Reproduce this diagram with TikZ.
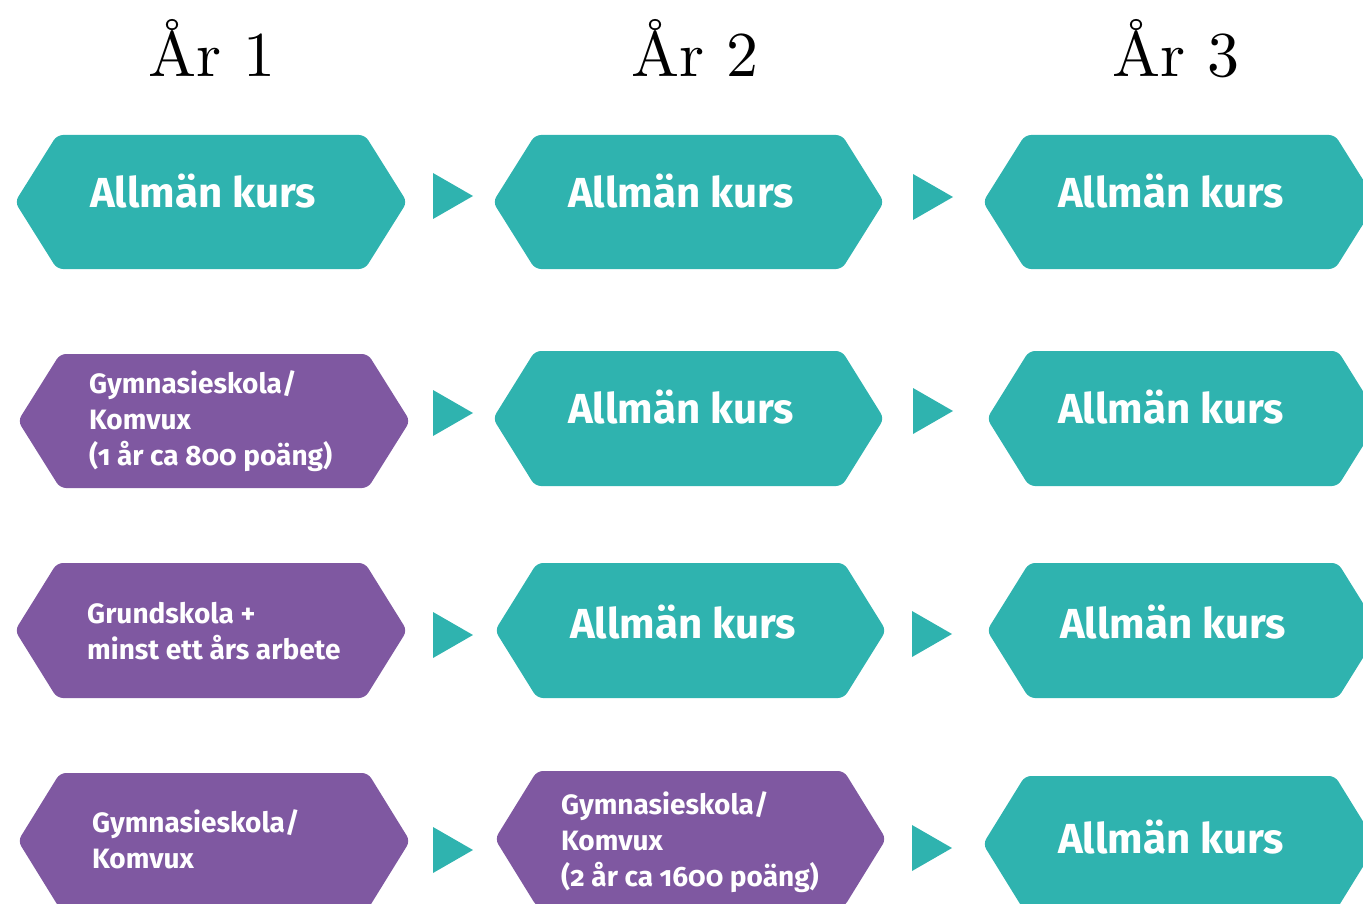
\documentclass[tikz,border=0pt]{standalone}
\usepackage{fontspec}
\setmainfont{Latin Modern Roman}
\newfontfamily\hdrfont{lmroman10-regular.otf}
\newfontfamily\boxfont[Numbers=OldStyle]{Fira Sans}
\definecolor{tealc}{RGB}{47,179,175}
\definecolor{purplec}{RGB}{127,88,161}
\tikzset{
  hdr/.style={anchor=base, font=\hdrfont\fontsize{64}{66}\selectfont, inner sep=0pt},
  bigtxt/.style={anchor=base, text=white, font=\boxfont\bfseries\fontsize{42}{44}\selectfont, inner sep=0pt},
  smalltxt/.style={anchor=base west, text=white, align=left, font=\boxfont\bfseries\fontsize{28}{36}\selectfont, inner sep=0pt},
  tri/.style={fill=tealc},
}
% \hexa{x1}{x2}{ytop}{ybot}{colour}
\newcommand\hexa[5]{%
  \fill[#5, rounded corners=6pt] (#1,{(#3+#4)/2}) -- ({#1+42},#3) -- ({#2-42},#3) -- (#2,{(#3+#4)/2}) -- ({#2-42},#4) -- ({#1+42},#4) -- cycle;}
\newcommand\tria[2]{%
  \fill[tri] (#1,{#2-23}) -- ({#1+40},#2) -- (#1,{#2+23}) -- cycle;}
\begin{document}
\begin{tikzpicture}[x=1pt,y=-1pt]
\useasboundingbox (0,0) rectangle (1363,904);
% headers
\node[hdr] (h1) at (212,77) {År 1};
\node[hdr] (h2) at (695,77) {År 2};
\node[hdr] (h3) at (1176,77) {År 3};
% row 1
\hexa{15}{407}{135}{269}{tealc}
\hexa{493}{884}{135}{269}{tealc}
\hexa{983}{1377}{135}{269}{tealc}
\tria{433}{196}
\tria{913}{197}
\node[bigtxt] (r1c1) at (203,208) {Allmän kurs};
\node[bigtxt] (r1c2) at (681,208) {Allmän kurs};
\node[bigtxt] (r1c3) at (1171,208) {Allmän kurs};
% row 2
\hexa{18}{410}{354}{488}{purplec}
\hexa{493}{884}{351}{486}{tealc}
\hexa{987}{1380}{351}{486}{tealc}
\tria{433}{413}
\tria{913}{411}
\node[smalltxt] (r2c1) at (89,465) {Gymnasieskola/\\Komvux\\(1 år ca 800 poäng)};
\node[bigtxt] (r2c2) at (681,423) {Allmän kurs};
\node[bigtxt] (r2c3) at (1171,423) {Allmän kurs};
% row 3
\hexa{15}{407}{563}{698}{purplec}
\hexa{495}{886}{563}{698}{tealc}
\hexa{987}{1380}{563}{698}{tealc}
\tria{433}{635}
\tria{912}{634}
\node[smalltxt] (r3c1) at (87,659) {Grundskola +\\minst ett års arbete};
\node[bigtxt] (r3c2) at (683,638) {Allmän kurs};
\node[bigtxt] (r3c3) at (1173,638) {Allmän kurs};
% row 4
\hexa{18}{410}{773}{909}{purplec}
\hexa{495}{886}{771}{907}{purplec}
\hexa{983}{1377}{776}{912}{tealc}
\tria{433}{850}
\tria{912}{848}
\node[smalltxt] (r4c1) at (92,868) {Gymnasieskola/\\Komvux};
\node[smalltxt] (r4c2) at (561,886) {Gymnasieskola/\\Komvux\\(2 år ca 1600 poäng)};
\node[bigtxt] (r4c3) at (1171,853) {Allmän kurs};
\end{tikzpicture}
\end{document}
